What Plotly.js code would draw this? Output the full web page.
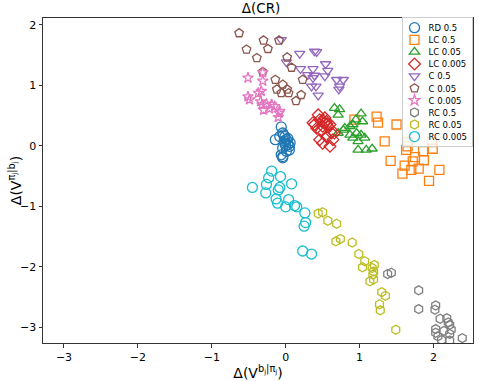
<!DOCTYPE html>
<html>
<head>
<meta charset="utf-8">
<script src="https://cdn.plot.ly/plotly-3.0.1.min.js"></script>
<style>html,body{margin:0;padding:0;background:#fff;}#chart{width:479px;height:381px;}</style>
</head>
<body>
<div id="chart"></div>
<script>
// Series names
const seriesNames = ["RD 0.5","LC 0.5","LC 0.05","LC 0.005","C 0.5","C 0.05","C 0.005","RC 0.5","RC 0.05","RC 0.005"];

// RD 0.5
const rd05_x = [-0.06,-0.14,-0.04,0.01,-0.01,0.03,0.05,-0.04,-0.06,-0.04,0.01,-0.08,-0.01,0.05,-0.04,-0.02,0.03,0.00,0.06,-0.03];
const rd05_y = [0.31,0.10,0.21,0.10,0.04,0.02,-0.07,-0.04,-0.15,-0.20,-0.09,0.15,0.15,-0.01,-0.18,0.08,0.12,0.00,0.05,0.18];
// LC 0.5
const lc05_x = [0.93,1.23,1.25,1.50,1.34,1.65,1.63,1.86,1.99,1.42,1.75,1.72,1.87,1.61,1.58,1.70,1.80,2.08,1.94,1.65,1.98];
const lc05_y = [0.43,0.48,0.38,0.35,0.07,-0.01,-0.07,-0.09,-0.05,-0.25,-0.19,-0.26,-0.24,-0.33,-0.46,-0.40,-0.38,-0.40,-0.58,0.06,0.06];
// LC 0.05
const lc005_x = [0.66,0.73,0.71,1.02,1.04,0.87,0.91,0.78,0.71,0.87,0.96,1.02,0.91,0.98,1.07,0.98,1.09,1.17,0.95,0.80];
const lc005_y = [0.62,0.60,0.51,0.53,0.40,0.32,0.35,0.26,0.21,0.18,0.21,0.18,0.13,0.07,0.13,-0.07,-0.07,-0.05,0.43,0.29];
// LC 0.005
const lc0005_x = [0.44,0.53,0.46,0.39,0.55,0.60,0.50,0.48,0.62,0.46,0.55,0.64,0.50,0.60,0.57,0.42,0.37,0.66,0.52,0.56,0.50];
const lc0005_y = [0.51,0.46,0.43,0.35,0.40,0.35,0.32,0.24,0.21,0.10,0.15,0.10,0.04,-0.01,0.32,0.29,0.38,0.21,0.38,0.36,0.42];
// C 0.5
const c05_x = [-0.06,0.19,0.39,0.42,0.01,0.20,0.37,0.54,0.57,0.30,0.39,0.53,0.35,0.41,0.44,0.69,0.78,0.73,0.72,0.37];
const c05_y = [1.75,1.52,1.56,1.55,1.38,1.27,1.27,1.35,1.24,1.17,1.16,1.15,0.98,0.98,0.83,1.09,1.09,0.98,0.93,1.12];
// C 0.05
const c005_x = [-0.63,-0.30,-0.09,-0.53,-0.24,-0.39,0.02,0.08,-0.31,-0.14,0.23,-0.04,-0.12,0.02,-0.06,0.04,0.21,0.14];
const c005_y = [1.86,1.74,1.74,1.59,1.60,1.45,1.46,1.29,1.22,1.09,1.09,1.01,0.93,0.93,0.87,0.87,0.84,0.74];
// C 0.005
const c0005_x = [-0.51,-0.31,-0.31,-0.33,-0.37,-0.51,-0.49,-0.34,-0.32,-0.26,-0.19,-0.15,-0.30,-0.22,-0.08,-0.10,-0.09];
const c0005_y = [1.12,1.21,1.07,0.90,0.87,0.81,0.76,0.73,0.68,0.69,0.68,0.65,0.59,0.61,0.57,0.47,0.54];
// RC 0.5
const rc05_x = [1.38,1.43,1.80,1.80,2.03,2.02,2.09,2.18,2.20,2.22,2.03,2.03,2.14,2.24,2.22,2.06,2.11,2.22,2.39];
const rc05_y = [-2.12,-2.10,-2.39,-2.70,-2.64,-2.71,-2.86,-2.85,-2.92,-2.96,-3.03,-3.09,-3.06,-3.04,-3.11,-3.15,-3.21,-3.22,-3.18];
// RC 0.05
const rc005_x = [0.44,0.50,0.57,0.69,0.68,0.74,0.90,0.99,1.07,1.04,1.17,1.20,1.19,1.14,1.19,1.30,1.35,1.27,1.28,1.49,1.18];
const rc005_y = [-1.12,-1.10,-1.24,-1.29,-1.58,-1.54,-1.60,-1.79,-1.91,-2.01,-2.02,-1.97,-2.08,-2.24,-2.21,-2.42,-2.48,-2.62,-2.72,-3.04,-2.13];
// RC 0.005
const rc0005_x = [-0.19,-0.23,-0.07,0.08,-0.45,-0.26,-0.08,-0.10,-0.27,0.04,-0.13,-0.11,0.00,0.12,0.15,0.26,0.27,0.25,0.23,0.35];
const rc0005_y = [-0.42,-0.53,-0.51,-0.63,-0.69,-0.64,-0.69,-0.73,-0.78,-0.89,-0.88,-0.95,-1.01,-0.99,-1.01,-1.11,-1.27,-1.33,-1.74,-1.79];

const xs = [rd05_x,lc05_x,lc005_x,lc0005_x,c05_x,c005_x,c0005_x,rc05_x,rc005_x,rc0005_x];
const ys = [rd05_y,lc05_y,lc005_y,lc0005_y,c05_y,c005_y,c0005_y,rc05_y,rc005_y,rc0005_y];
const colors = ["#1f77b4","#ff7f0e","#2ca02c","#d62728","#9467bd","#8c564b","#e377c2","#7f7f7f","#bcbd22","#17becf"];
const symbols = ["circle-open","square-open","triangle-up-open","diamond-open","triangle-down-open","pentagon-open","star-open","hexagon-open","hexagon-open","circle-open"];
const sizes = [10,9,9,9,9,9,8,9,9,10];

const traces = seriesNames.map((n,i)=>({
  type:"scatter", mode:"markers", name:n, x:xs[i], y:ys[i],
  marker:{symbol:symbols[i], size:sizes[i], color:colors[i], line:{width:1.3, color:colors[i]}}
}));

const font = "DejaVu Sans, sans-serif";
const layout = {
  width:479, height:381,
  margin:{l:43, r:6, t:18, b:38},
  paper_bgcolor:"#fff", plot_bgcolor:"#fff",
  font:{family:font, size:11, color:"#000"},
  title:{text:"Δ(CR)", font:{family:font, size:13.5, color:"#000"}, x:0.545, xanchor:"center", y:0.99, yanchor:"top"},
  showlegend:true,
  legend:{x:0.998, xanchor:"right", y:1.004, yanchor:"top", bgcolor:"rgba(255,255,255,0.8)", bordercolor:"#cccccc", borderwidth:1, font:{family:font, size:8.5}, tracegroupgap:0, itemwidth:30},
  xaxis:{range:[-3.284,2.535], tickvals:[-3,-2,-1,0,1,2], ticks:"outside", ticklen:3.5, tickwidth:1, tickcolor:"#333",
    showline:true, linecolor:"#333", linewidth:1, mirror:true, showgrid:false, zeroline:false,
    tickfont:{family:font, size:11, color:"#000"},
    title:{text:"Δ(V<sup>b<sub>j</sub>|π<sub>j</sub></sup>)", font:{family:font, size:14, color:"#000"}, standoff:2}},
  yaxis:{range:[-3.26,2.11], tickvals:[-3,-2,-1,0,1,2], ticks:"outside", ticklen:3.5, tickwidth:1, tickcolor:"#333",
    showline:true, linecolor:"#333", linewidth:1, mirror:true, showgrid:false, zeroline:false,
    tickfont:{family:font, size:11, color:"#000"},
    title:{text:"Δ(V<sup>π<sub>j</sub>|b<sub>j</sub></sup>)", font:{family:font, size:14, color:"#000"}, standoff:1}}
};

// Compact the legend to matplotlib-like spacing, and nudge the y title
function finish(gd){
  try {
    const leg = gd.querySelector('g.legend');
    if (leg) {
      const bg = leg.querySelector('rect.bg');
      const items = leg.querySelectorAll('g.traces');
      const step = 12.1, first = 11, boxW = 70;
      items.forEach((g,i)=>{
        const m = /translate\(\s*([-\d.e]+)[ ,]+([-\d.e]+)\s*\)/.exec(g.getAttribute('transform')||'');
        const x = m ? parseFloat(m[1]) : 0;
        g.setAttribute('transform', 'translate(' + x + ',' + (first + i*step) + ')');
        const txt = g.querySelector('text.legendtext');
        if (txt) {
          txt.setAttribute('x', 26);
          txt.querySelectorAll('tspan').forEach(t=>{ if (t.hasAttribute('x')) t.setAttribute('x', 26); });
        }
        g.querySelectorAll('g.legendpoints path').forEach(p=>p.setAttribute('transform','translate(12,0)'));
        const tog = g.querySelector('rect.legendtoggle');
        if (tog) { tog.setAttribute('width', boxW); }
      });
      const boxH = first + (items.length-1)*step + 9;
      if (bg) { bg.setAttribute('height', boxH); bg.setAttribute('width', boxW); }
      const sb = leg.querySelector('g.scrollbox');
      if (sb) sb.removeAttribute('clip-path');
      const lm = /translate\(\s*([-\d.e]+)[ ,]+([-\d.e]+)\s*\)/.exec(leg.getAttribute('transform')||'');
      const ly = lm ? parseFloat(lm[2]) : 17;
      const plotRight = gd._fullLayout._size.l + gd._fullLayout._size.w;
      leg.setAttribute('transform', 'translate(' + (plotRight - 1.5 - boxW) + ',' + ly + ')');
    }
    const yt = gd.querySelector('g.g-ytitle');
    if (yt) {
      const bb = yt.getBBox();
      const cx = bb.x + bb.width/2;
      yt.setAttribute('transform', 'translate(' + (15 - cx) + ',0)');
    }
  } catch(e) { console.log(e); }
}

Plotly.newPlot("chart", traces, layout, {displayModeBar:false, staticPlot:true}).then(finish);
</script>
</body>
</html>
